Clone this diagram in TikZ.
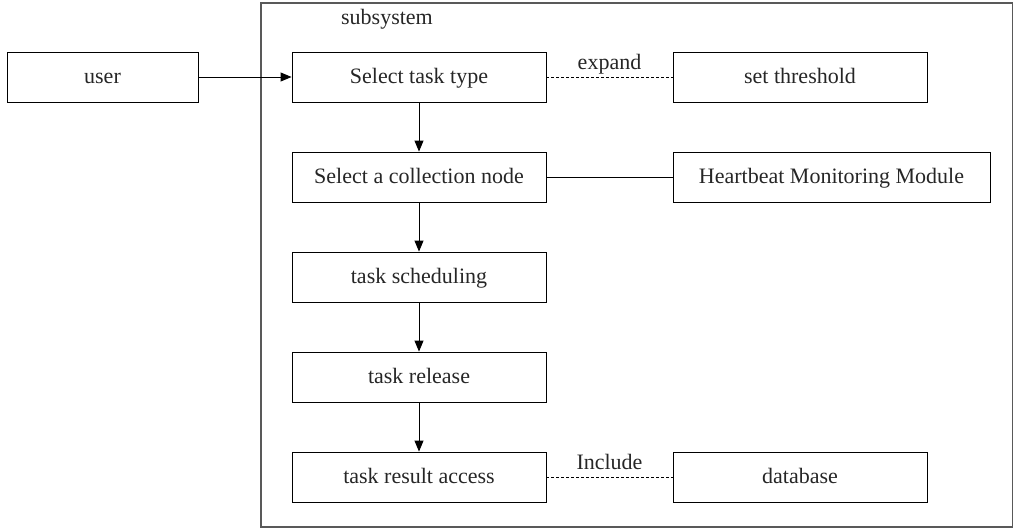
\documentclass[tikz,border=0pt]{standalone}
\usepackage{fontspec}
\setmainfont{Liberation Serif}
\usetikzlibrary{arrows.meta}
\tikzset{
  box/.style={draw=black, line width=0.9pt, rectangle, minimum height=50pt, inner sep=0pt, text height=15pt, text depth=2.5pt, font=\fontsize{22}{26}\selectfont, text=black!85},
  narrow/.style={box, minimum width=254pt},
  wide/.style={box, minimum width=317pt},
  flow/.style={draw=black, line width=0.9pt, -{Triangle[length=11pt,width=9pt]}},
  rel/.style={draw=black, line width=0.8pt, dashed, dash pattern=on 3pt off 2pt},
  plain/.style={draw=black, line width=0.9pt},
  lbl/.style={font=\fontsize{22}{26}\selectfont, text=black!85, anchor=base, yshift=7.5pt, inner sep=0pt},
  frame/.style={draw=black!65, line width=1.4pt}
}
\begin{document}
\begin{tikzpicture}[x=1pt,y=-1pt]
\useasboundingbox (0,0) rectangle (1014,530);
\draw[frame] (261,3) rectangle (1012.5,527);
\node[font=\fontsize{22}{26}\selectfont, text=black!85, inner sep=0pt] (sub) at (387,19) {subsystem};
\node[box, minimum width=191pt] (user) at (102.5,77) {user};
\node[narrow] (sel) at (419,77) {Select task type};
\node[narrow] (thr) at (800,77) {set threshold};
\node[narrow] (col) at (419,177) {Select a collection node};
\node[wide] (hb) at (831.5,177) {Heartbeat Monitoring Module};
\node[narrow] (sch) at (419,277) {task scheduling};
\node[narrow] (rls) at (419,377) {task release};
\node[narrow] (res) at (419,477) {task result access};
\node[narrow] (db) at (800,477) {database};
\draw[flow] (user) -- (sel);
\draw[flow] (sel) -- (col);
\draw[flow] (col) -- (sch);
\draw[flow] (sch) -- (rls);
\draw[flow] (rls) -- (res);
\draw[rel] (sel) -- node[lbl] {expand} (thr);
\draw[plain] (col) -- (hb);
\draw[rel] (res) -- node[lbl] {Include} (db);
\end{tikzpicture}
\end{document}
